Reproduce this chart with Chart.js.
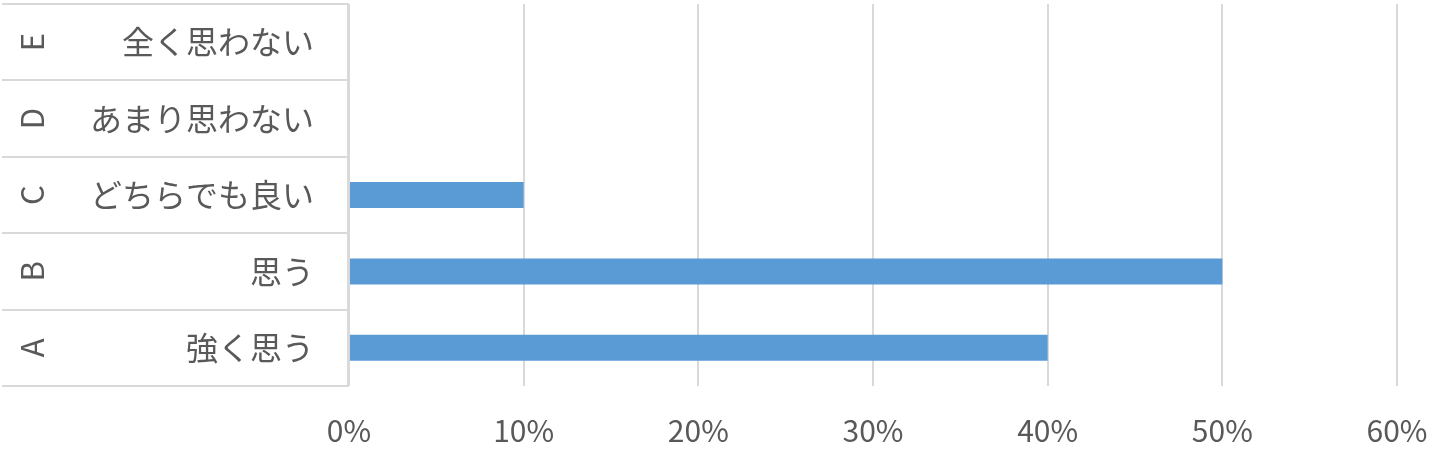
<!DOCTYPE html>
<html lang="ja">
<head>
<meta charset="utf-8">
<title>回答の分布</title>
<script src="https://cdn.jsdelivr.net/npm/chart.js@4"></script>
<style>
  html, body { margin: 0; padding: 0; background: #fff; }
  #wrap { width: 1440px; height: 460px; }
</style>
</head>
<body>
<div id="wrap"><canvas id="chart" width="1440" height="460"></canvas></div>
<script>
// categories, bottom to top
const groupLabels = ['A', 'B', 'C', 'D', 'E'];
const answerLabels = ['強く思う', '思う', 'どちらでも良い', 'あまり思わない', '全く思わない'];
// share of answers (%)
const shares = [40, 50, 10, 0, 0];

const textColor = '#595959';
const gridColor = '#d9d9d9';
const fontFamily = '"Noto Sans CJK JP", "Noto Sans", sans-serif';

// draws the A-E group column and the box lines round the category labels
const groupBox = {
  id: 'groupBox',
  afterDraw(chart) {
    const ctx = chart.ctx;
    const area = chart.chartArea;
    const yScale = chart.scales.y;
    const n = groupLabels.length;
    const band = area.height / n;

    ctx.save();
    ctx.strokeStyle = gridColor;
    ctx.lineWidth = 2;
    ctx.beginPath();
    for (let k = 0; k <= n; k++) {
      const y = Math.round(area.top + k * band);
      ctx.moveTo(2, y);
      ctx.lineTo(area.left, y);
    }
    ctx.moveTo(area.left - 1, area.top);
    ctx.lineTo(area.left - 1, area.bottom);
    ctx.stroke();

    ctx.fillStyle = textColor;
    ctx.font = '31px ' + fontFamily;
    ctx.textAlign = 'center';
    ctx.textBaseline = 'middle';
    groupLabels.forEach((label, i) => {
      const y = yScale.getPixelForValue(i);
      ctx.save();
      ctx.translate(32, y);
      ctx.rotate(-Math.PI / 2);
      ctx.fillText(label, 0, 0);
      ctx.restore();
    });
    ctx.restore();
  },
};

new Chart(document.getElementById('chart'), {
  type: 'bar',
  data: {
    labels: answerLabels,
    datasets: [
      {
        data: shares,
        backgroundColor: '#5b9bd5',
        borderWidth: 0,
        categoryPercentage: 1,
        barPercentage: 0.34,
      },
    ],
  },
  options: {
    indexAxis: 'y',
    responsive: false,
    animation: false,
    layout: {
      padding: { top: 4, right: 43, bottom: 0, left: 0 },
    },
    plugins: {
      legend: { display: false },
      tooltip: { enabled: false },
    },
    scales: {
      x: {
        min: 0,
        max: 60,
        grid: {
          color: gridColor,
          lineWidth: 2,
          drawTicks: false,
        },
        border: { display: false },
        ticks: {
          stepSize: 10,
          padding: 27,
          color: textColor,
          font: { size: 30, family: fontFamily },
          callback: (value) => value + '%',
        },
        afterFit: (scale) => {
          scale.height = 74;
          scale.paddingLeft = 0;
          scale.paddingRight = 0;
        },
      },
      y: {
        reverse: true,
        grid: { display: false },
        border: { display: false },
        ticks: {
          padding: 27,
          color: textColor,
          font: { size: 32, family: fontFamily },
        },
        afterFit: (scale) => {
          scale.width = 349;
          scale.paddingTop = 0;
          scale.paddingBottom = 0;
        },
      },
    },
  },
  plugins: [groupBox],
});
</script>
</body>
</html>
